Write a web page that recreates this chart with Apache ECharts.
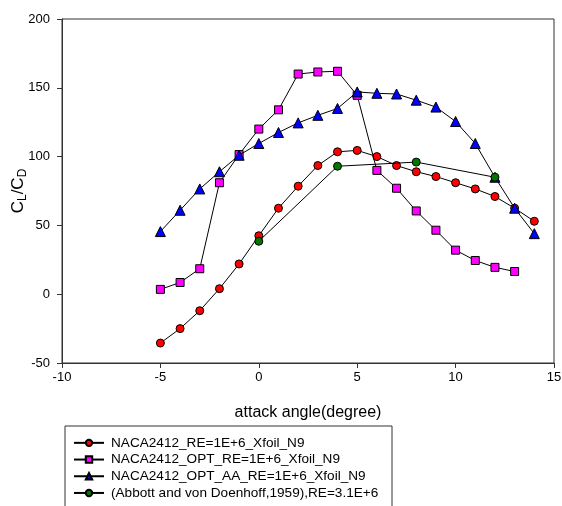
<!DOCTYPE html>
<html>
<head>
<meta charset="utf-8">
<script src="https://cdn.jsdelivr.net/npm/echarts@6/dist/echarts.min.js"></script>
<style>html,body{margin:0;padding:0;background:#fff}#c{width:562px;height:506px}</style>
</head>
<body>
<div id="c"></div>
<script>
var seriesNames = [
  'NACA2412_RE=1E+6_Xfoil_N9',
  'NACA2412_OPT_RE=1E+6_Xfoil_N9',
  'NACA2412_OPT_AA_RE=1E+6_Xfoil_N9',
  '(Abbott and von Doenhoff,1959),RE=3.1E+6'
];
var xRed = [-5,-4,-3,-2,-1,0,1,2,3,4,5,6,7,8,9,10,11,12,13,14];
var yRed = [-35.5,-25,-12,4,22,42.5,62.5,78.5,93.5,103.5,104.5,100,93.5,89,85.5,81,76.5,71,62.5,53];
var xOpt = [-5,-4,-3,-2,-1,0,1,2,3,4,5,6,7,8,9,10,11,12,13];
var yOpt = [3.5,8.5,18.5,81,101.5,120,134,160,161.5,162,144.5,90,77,60.5,46.5,32,24.5,19.5,16.5];
var xAA = [-5,-4,-3,-2,-1,0,1,2,3,4,5,6,7,8,9,10,11,12,13,14];
var yAA = [45.5,61,76.5,89,101,109.5,117.5,124.5,130,135,147,146,145.5,141,136,125.5,109.5,85,62.5,44];
var xExp = [0,4,8,12];
var yExp = [38.5,93,96,85];
var xTicks = [-10,-5,0,5,10,15];
var yTicks = [-50,0,50,100,150,200];

function pairs(xs, ys){ return xs.map(function(x,i){ return [x, ys[i]]; }); }

var colors = ['#FF0000','#FF00FF','#0000FF','#007700'];
var symbols = ['circle','rect','triangle','circle'];
var sizes = [8,8,10,8];
var datasets = [pairs(xRed,yRed), pairs(xOpt,yOpt), pairs(xAA,yAA), pairs(xExp,yExp)];

var chart = echarts.init(document.getElementById('c'), null, {renderer:'canvas'});
var font = 'Liberation Sans, Arial, sans-serif';
var option = {
  animation: false,
  backgroundColor: '#fff',
  grid: {left: 62, top: 19, right: 8, bottom: 143, containLabel: false, outerBoundsMode: 'none',
         show: true, borderColor: '#333', borderWidth: 1, backgroundColor: 'transparent'},
  xAxis: {
    type: 'value', min: xTicks[0], max: xTicks[xTicks.length-1], interval: 5,
    name: 'attack angle(degree)', nameLocation: 'middle', nameGap: 42, nameMoveOverlap: false,
    nameTextStyle: {fontFamily: font, fontSize: 16, color: '#000'},
    axisLine: {show: true, onZero: false, lineStyle: {color: '#333', width: 1}},
    axisTick: {show: true, length: 5, lineStyle: {color: '#333'}},
    axisLabel: {fontFamily: font, fontSize: 13, color: '#000', margin: 8},
    splitLine: {show: false}
  },
  yAxis: {
    type: 'value', min: yTicks[0], max: yTicks[yTicks.length-1], interval: 50,
    name: '{c|C}{s|L}{c|/}{c|C}{s|D}', nameLocation: 'middle', nameGap: 34, nameRotate: 90,
    nameMoveOverlap: false,
    nameTextStyle: {
      fontFamily: font, color: '#000',
      rich: {
        c: {fontFamily: font, fontSize: 17, color: '#000', lineHeight: 20},
        s: {fontFamily: font, fontSize: 12, color: '#000', lineHeight: 20, padding: [10,0,0,0]}
      }
    },
    axisLine: {show: true, onZero: false, lineStyle: {color: '#333', width: 1}},
    axisTick: {show: true, length: 5, lineStyle: {color: '#333'}},
    axisLabel: {fontFamily: font, fontSize: 13, color: '#000', margin: 12},
    splitLine: {show: false}
  },
  legend: {
    orient: 'vertical', left: 73, top: 434.5, padding: 0,
    itemWidth: 30, itemHeight: 8, itemGap: 0,
    textStyle: {fontFamily: font, fontSize: 13.6, lineHeight: 16.7, color: '#000', padding: [0,0,0,2]},
    data: seriesNames
  },
  graphic: [{
    type: 'rect', left: 62.5, top: 423.5, z: 0,
    shape: {width: 327, height: 100},
    style: {fill: 'none', stroke: '#333', lineWidth: 1}
  }],
  series: datasets.map(function(d, i){
    return {
      name: seriesNames[i], type: 'line', data: d,
      symbol: symbols[i], symbolSize: sizes[i],
      lineStyle: {color: '#000', width: 1},
      itemStyle: {color: colors[i], borderColor: '#000', borderWidth: 1},
      z: 2 + i
    };
  })
};
chart.setOption(option);
</script>
</body>
</html>
